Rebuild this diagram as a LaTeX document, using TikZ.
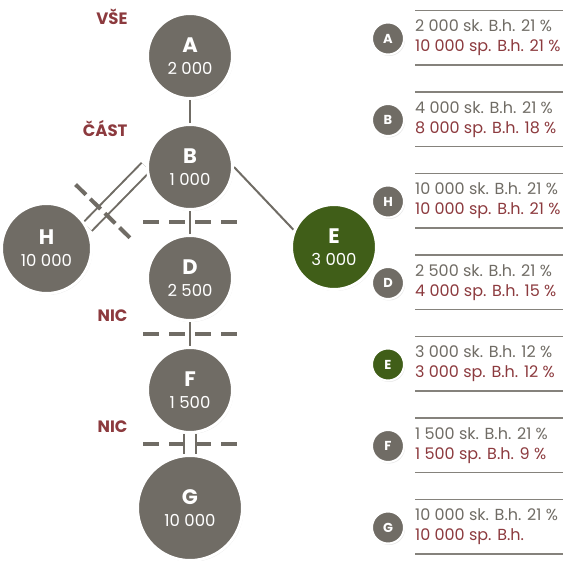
\documentclass[tikz,border=0pt]{standalone}
\usepackage{fontspec}
\setmainfont{Poppins}
\usepackage{tikz}
\usetikzlibrary{shadows,calc,backgrounds}
\definecolor{stone}{RGB}{112,108,101}
\definecolor{moss}{RGB}{64,94,24}
\definecolor{wine}{RGB}{140,58,62}
\tikzset{
  part/.style={circle, fill=stone, draw=white, line width=3pt, minimum size=85pt, inner sep=0pt, text=white, align=center,
    font=\fontsize{16.5}{22}\selectfont, drop shadow={shadow xshift=1pt, shadow yshift=-1.5pt, fill=black!18}},
  badge/.style={part, minimum size=32pt, line width=2pt, font=\bfseries\fontsize{13}{13}\selectfont},
  link/.style={draw=stone, line width=2pt},
  twin/.style={link, double=white, double distance=10pt},
  cut/.style={draw=stone, line width=4pt, dash pattern=on 16pt off 10pt},
  level/.style={text=wine, anchor=base east, font=\bfseries\fontsize{16.5}{16.5}\selectfont},
  rule/.style={draw=stone!85, line width=1.5pt},
  row/.style={anchor=base west, inner sep=0pt, font=\fontsize{16}{16}\selectfont},
}
\newcommand{\partlabel}[2]{{\bfseries\fontsize{21}{21}\selectfont #1}\\#2}

\begin{document}
\begin{tikzpicture}[x=1pt, y=-1pt]
\useasboundingbox (0,0) rectangle (563,561);
% tree
\node[part] (A) at (190,56) {\partlabel{A}{2 000}};
\node[part] (B) at (190,167) {\partlabel{B}{1 000}};
\node[part, minimum size=90pt] (H) at (46.5,248.5) {\partlabel{H}{10 000}};
\node[part] (D) at (190,278) {\partlabel{D}{2 500}};
\node[part, fill=moss] (E) at (334,247) {\partlabel{E}{3 000}};
\node[part] (F) at (190,390) {\partlabel{F}{1 500}};
\node[part, minimum size=105pt] (G) at (190,508) {\partlabel{G}{10 000}};
\begin{scope}[on background layer]
\draw[link] (A) -- (B); \draw[link] (B) -- (D); \draw[link] (D) -- (F);
\draw[link] (B.east) -- (E.157);
\draw[twin] (B.west) -- (H.28);
\draw[twin] (F) -- (G);
\end{scope}
% cuts
\coordinate (cBD) at ($(B.south)!.5!(D.north)$);
\coordinate (cDF) at ($(D.south)!.5!(F.north)$);
\coordinate (cFG) at ($(F.south)!.5!(G.north)$);
\foreach \c in {cBD,cDF,cFG} \draw[cut] ($(\c)+(-47,0)$) -- ($(\c)+(47,0)$);
\coordinate (cBH) at ($(B.west)!.74!(H.28)$);
\draw[cut, dash pattern=on 14.5pt off 6pt] ($(cBH)!38pt!90:(H.28)$) -- ($(cBH)!38pt!-90:(H.28)$);
\node[level] (all) at (131,25) {VŠE};
\node[level] (some) at (131,137) {ČÁST};
\node[level] (none1) at (131,322) {NIC};
\node[level] (none2) at (131,433) {NIC};
% list
\foreach \n/\y/\c in {A/38.5/stone, B/120/stone, H/201.5/stone, D/283/stone, E/364.5/moss, F/446/stone, G/527.5/stone} {
  \node[badge, fill=\c] (badge\n) at (388,\y) {\n};
  \draw[rule] (415,\y-28) -- (563,\y-28); \draw[rule] (415,\y+26.5) -- (563,\y+26.5);
}
\foreach \n/\y/\sk in {A/38.5/2 000 sk. B.h. 21 \%, B/120/4 000 sk. B.h. 21 \%, H/201.5/10 000 sk. B.h. 21 \%,
  D/283/2 500 sk. B.h. 21 \%, E/364.5/3 000 sk. B.h. 12 \%, F/446/1 500 sk. B.h. 21 \%, G/527.5/10 000 sk. B.h. 21 \%}
  \node[row, text=stone] (sk\n) at (415,\y-6.5) {\sk};
\foreach \n/\y/\sp in {A/38.5/10 000 sp. B.h. 21 \%, B/120/8 000 sp. B.h. 18 \%, H/201.5/10 000 sp. B.h. 21 \%,
  D/283/4 000 sp. B.h. 15 \%, E/364.5/3 000 sp. B.h. 12 \%, F/446/1 500 sp. B.h. 9 \%, G/527.5/10 000 sp. B.h.}
  \node[row, text=wine] (sp\n) at (415,\y+13.5) {\sp};
\end{tikzpicture}
\end{document}
